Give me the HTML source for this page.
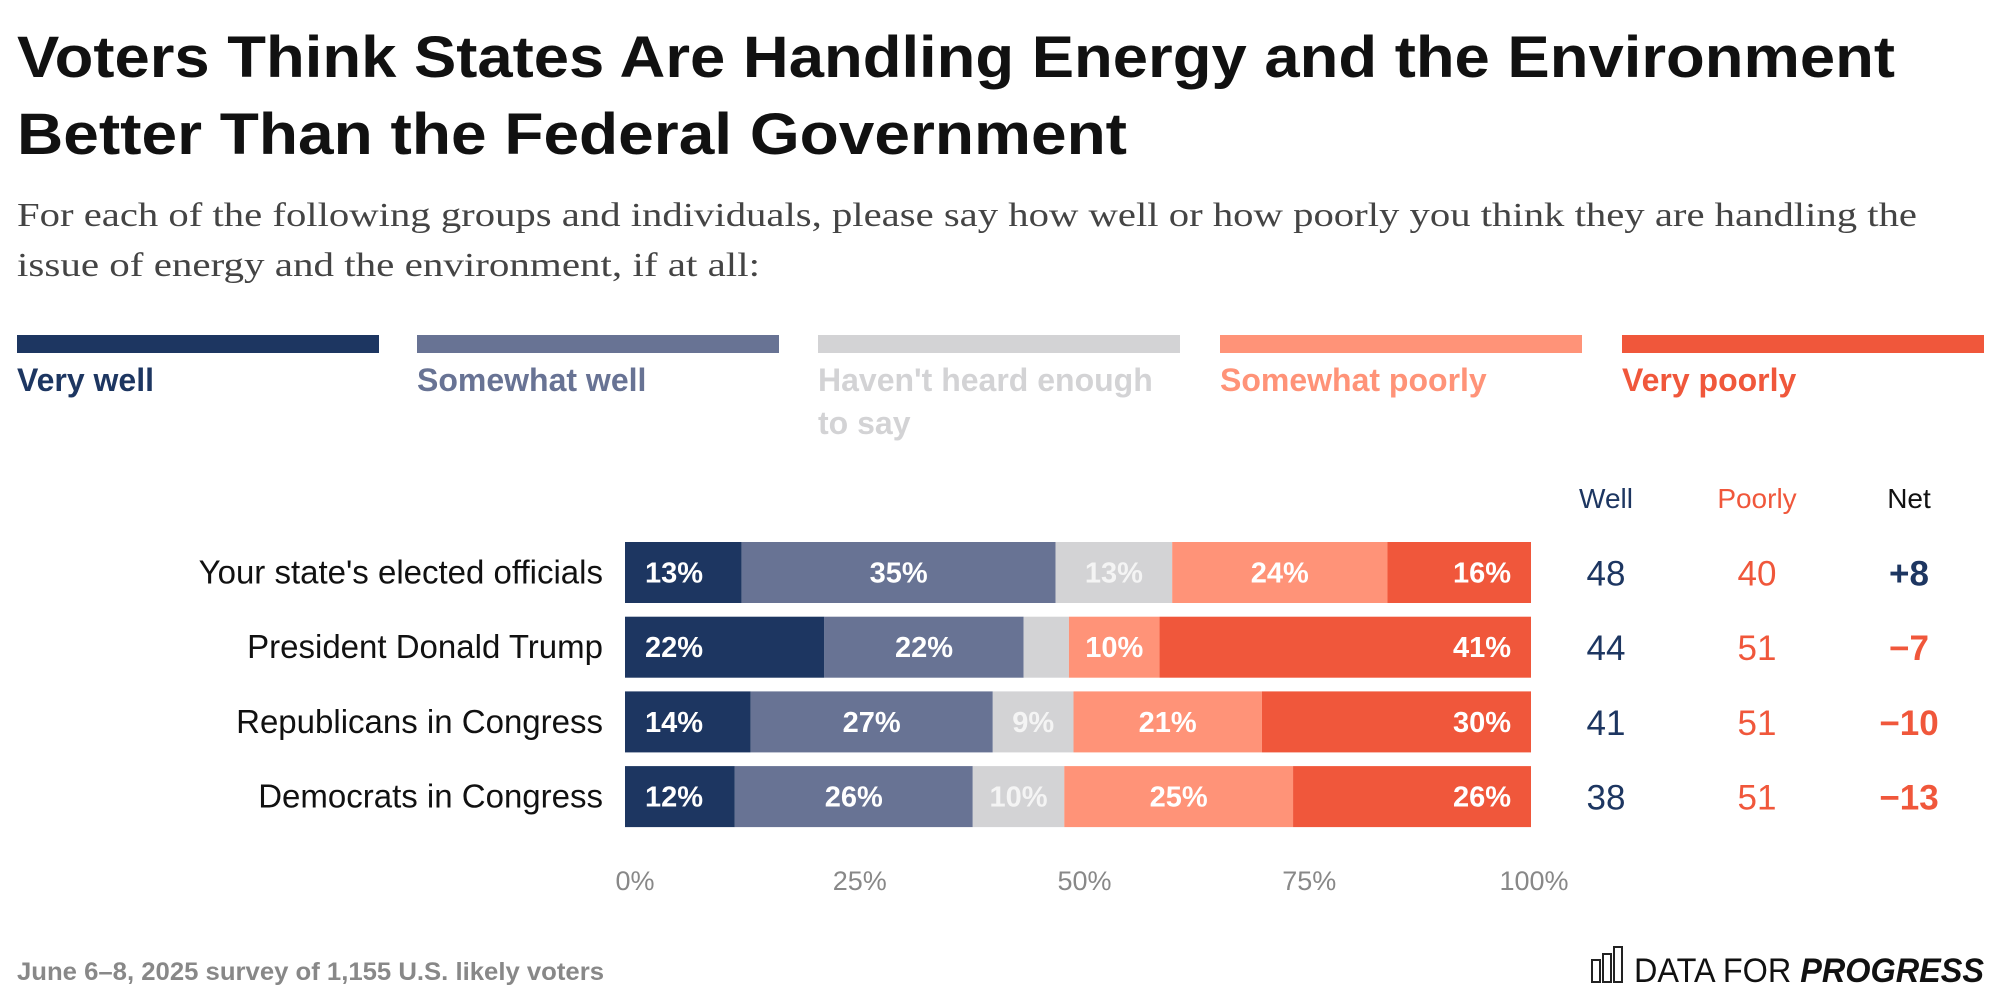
<!DOCTYPE html>
<html><head><meta charset="utf-8"><style>
html,body{margin:0;padding:0;background:#fff}
svg{display:block;font-family:"Liberation Sans",sans-serif}
</style></head><body>
<svg id="chart" width="1999" height="1004" viewBox="0 0 1999 1004" xmlns="http://www.w3.org/2000/svg">
<text x="17" y="77" font-size="58" font-weight="bold" fill="#111" textLength="1878" lengthAdjust="spacingAndGlyphs">Voters Think States Are Handling Energy and the Environment</text>
<text x="17" y="154" font-size="58" font-weight="bold" fill="#111" textLength="1110" lengthAdjust="spacingAndGlyphs">Better Than the Federal Government</text>
<text x="17" y="226" font-size="34" fill="#444" font-family="Liberation Serif, serif" textLength="1900" lengthAdjust="spacingAndGlyphs">For each of the following groups and individuals, please say how well or how poorly you think they are handling the</text>
<text x="17" y="276" font-size="34" fill="#444" font-family="Liberation Serif, serif" textLength="743" lengthAdjust="spacingAndGlyphs">issue of energy and the environment, if at all:</text>
<g id="legend"></g>
<g id="plot"></g>
<text x="17" y="980" font-size="25" font-weight="bold" fill="#888" textLength="587" lengthAdjust="spacingAndGlyphs">June 6–8, 2025 survey of 1,155 U.S. likely voters</text>
<g>
<rect x="1592" y="960" width="8" height="22" fill="none" stroke="#222" stroke-width="2"/>
<rect x="1603" y="954" width="8" height="28" fill="none" stroke="#222" stroke-width="2"/>
<rect x="1614" y="947" width="8" height="35" fill="none" stroke="#222" stroke-width="2"/>
<text x="1634" y="982" font-size="34" fill="#111" textLength="350" lengthAdjust="spacingAndGlyphs">DATA FOR <tspan font-weight="bold" font-style="italic">PROGRESS</tspan></text>
</g>
</svg>
<script>
const categories=["Your state's elected officials","President Donald Trump","Republicans in Congress","Democrats in Congress"];
const veryWell=[13,22,14,12];
const somewhatWell=[35,22,27,26];
const notHeard=[13,5,9,10];
const somewhatPoorly=[24,10,21,25];
const veryPoorly=[16,41,30,26];
const notHeardLabels=["13%","","9%","10%"];
const wellTotals=[48,44,41,38];
const poorlyTotals=[40,51,51,51];
const netValues=["+8","−7","−10","−13"];
const tickValues=[0,25,50,75,100];
const seriesNames=["Very well","Somewhat well","Haven't heard enough","Somewhat poorly","Very poorly"];
const colors=["#1d3661","#687394","#d3d3d5","#ff9378","#f0573b"];
const textColors=["#fff","#fff","#f4f4f4","#fff","#fff"];
const NS="http://www.w3.org/2000/svg";
function mk(t,a,p){const e=document.createElementNS(NS,t);for(const k in a)e.setAttribute(k,a[k]);p.appendChild(e);return e;}
const x0=625,x1=1531;
const xScale=v=>x0+(x1-x0)*v/100;
const rowTop=i=>542+i*74.7;
const barH=61;
const leg=document.getElementById('legend');
const legX=[17,417,818,1220,1622];
seriesNames.forEach((n,i)=>{
  const r=mk('rect',{x:legX[i],y:335,width:362,height:18,fill:colors[i]},leg);
  
  
  const t=mk('text',{x:legX[i],y:391,'font-size':32,'font-weight':'bold',fill:colors[i]},leg);
  
  
  if(i===2){t.textContent="Haven't heard enough";const t2=mk('text',{x:legX[i],y:434,'font-size':32,'font-weight':'bold',fill:colors[i]},leg);t2.textContent="to say";
    
    }
  else t.textContent=n;
});
const plot=document.getElementById('plot');
const heads=[["Well",1606,"#1d3661"],["Poorly",1757,"#f0573b"],["Net",1909,"#111"]];
heads.forEach(h=>{const t=mk('text',{x:h[1],y:508,'font-size':28,fill:h[2],'text-anchor':'middle'},plot);t.textContent=h[0];
  
  });
const series=[veryWell,somewhatWell,notHeard,somewhatPoorly,veryPoorly];
categories.forEach((c,i)=>{
  const y=rowTop(i),cy=y+barH/2+10;
  const lab=mk('text',{x:603,y:cy+1,'font-size':33,fill:'#111','text-anchor':'end'},plot);lab.textContent=c;
  
  
  const tot=series.reduce((s,a)=>s+a[i],0);let acc=0;
  series.forEach((a,j)=>{
    const v=a[i]/tot*100;const xa=xScale(acc),xb=xScale(acc+v);acc+=v;
    const r=mk('rect',{x:xa,y:y,width:xb-xa,height:barH,fill:colors[j]},plot);
    
    
    const txt=j===2?notHeardLabels[i]:a[i]+'%';
    if(txt){
      let tx,anchor;
      if(j===0){tx=xa+20;anchor='start';}else if(j===4){tx=xb-20;anchor='end';}else{tx=(xa+xb)/2;anchor='middle';}
      const t=mk('text',{x:tx,y:cy,'font-size':29,'font-weight':'bold',fill:textColors[j],'text-anchor':anchor},plot);t.textContent=txt;
      
      
    }
  });
  const w=mk('text',{x:1606,y:cy+3,'font-size':35,fill:'#1d3661','text-anchor':'middle'},plot);w.textContent=wellTotals[i];
  
  
  const p=mk('text',{x:1757,y:cy+3,'font-size':35,fill:'#f0573b','text-anchor':'middle'},plot);p.textContent=poorlyTotals[i];
  
  
  const n=mk('text',{x:1909,y:cy+3,'font-size':35,'font-weight':'bold',fill:netValues[i].startsWith('+')?'#1d3661':'#f0573b','text-anchor':'middle'},plot);n.textContent=netValues[i];
  
  
});
tickValues.forEach(v=>{
  const t=mk('text',{x:xScale(v)+10-v*0.07,y:890,'font-size':27,fill:'#888','text-anchor':'middle'},plot);t.textContent=v+'%';
  
  
});
</script>
</body></html>
